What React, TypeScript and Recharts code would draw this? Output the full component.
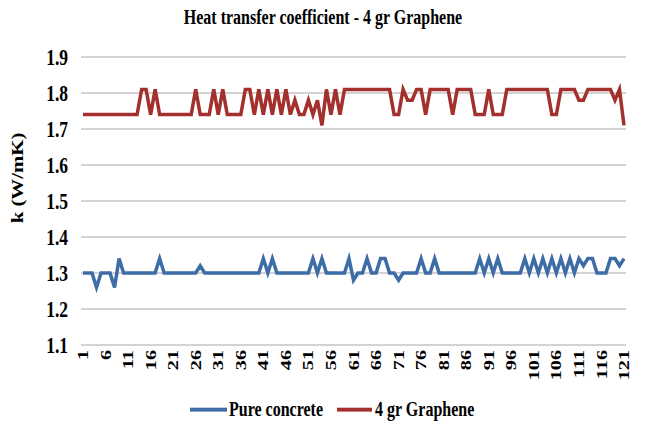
import React from 'react';
import { LineChart, Line, XAxis, YAxis, CartesianGrid } from 'recharts';

const samples: number[] = [
  1,2,3,4,5,6,7,8,9,10,11,12,13,14,15,16,17,18,19,20,
  21,22,23,24,25,26,27,28,29,30,31,32,33,34,35,36,37,38,39,40,
  41,42,43,44,45,46,47,48,49,50,51,52,53,54,55,56,57,58,59,60,
  61,62,63,64,65,66,67,68,69,70,71,72,73,74,75,76,77,78,79,80,
  81,82,83,84,85,86,87,88,89,90,91,92,93,94,95,96,97,98,99,100,
  101,102,103,104,105,106,107,108,109,110,111,112,113,114,115,116,117,118,119,120,121,
];

const pureConcrete: number[] = [
  1.30,1.30,1.30,1.26,1.30,1.30,1.30,1.26,1.34,1.30,
  1.30,1.30,1.30,1.30,1.30,1.30,1.30,1.34,1.30,1.30,
  1.30,1.30,1.30,1.30,1.30,1.30,1.32,1.30,1.30,1.30,
  1.30,1.30,1.30,1.30,1.30,1.30,1.30,1.30,1.30,1.30,
  1.34,1.30,1.34,1.30,1.30,1.30,1.30,1.30,1.30,1.30,
  1.30,1.34,1.30,1.34,1.30,1.30,1.30,1.30,1.30,1.34,
  1.28,1.30,1.30,1.34,1.30,1.30,1.34,1.34,1.30,1.30,
  1.28,1.30,1.30,1.30,1.30,1.34,1.30,1.30,1.34,1.30,
  1.30,1.30,1.30,1.30,1.30,1.30,1.30,1.30,1.34,1.30,
  1.34,1.30,1.34,1.30,1.30,1.30,1.30,1.30,1.34,1.30,
  1.34,1.30,1.34,1.30,1.34,1.30,1.34,1.30,1.34,1.30,
  1.34,1.32,1.34,1.34,1.30,1.30,1.30,1.34,1.34,1.32,
  1.34,
];

const graphene4gr: number[] = [
  1.74,1.74,1.74,1.74,1.74,1.74,1.74,1.74,1.74,1.74,
  1.74,1.74,1.74,1.81,1.81,1.74,1.81,1.74,1.74,1.74,
  1.74,1.74,1.74,1.74,1.74,1.81,1.74,1.74,1.74,1.81,
  1.74,1.81,1.74,1.74,1.74,1.74,1.81,1.81,1.74,1.81,
  1.74,1.81,1.74,1.81,1.74,1.81,1.74,1.78,1.74,1.74,
  1.78,1.74,1.78,1.71,1.81,1.74,1.81,1.74,1.81,1.81,
  1.81,1.81,1.81,1.81,1.81,1.81,1.81,1.81,1.81,1.74,
  1.74,1.81,1.78,1.78,1.81,1.81,1.74,1.81,1.81,1.81,
  1.81,1.81,1.74,1.81,1.81,1.81,1.81,1.74,1.74,1.74,
  1.81,1.74,1.74,1.74,1.81,1.81,1.81,1.81,1.81,1.81,
  1.81,1.81,1.81,1.81,1.74,1.74,1.81,1.81,1.81,1.81,
  1.78,1.78,1.81,1.81,1.81,1.81,1.81,1.81,1.78,1.81,
  1.71,
];

const yTicks: number[] = [1.1, 1.2, 1.3, 1.4, 1.5, 1.6, 1.7, 1.8, 1.9];

const titleText = 'Heat transfer coefficient - 4 gr Graphene';
const yLabelText = 'k (W/mK)';
const seriesNames = ['Pure concrete', '4 gr Graphene'];

const BLUE = '#3d6ca6';
const RED = '#a3302d';
const FONT = '"Liberation Serif", "Times New Roman", serif';

const data = samples.map((s, i) => ({
  sample: s,
  pure: pureConcrete[i],
  graphene: graphene4gr[i],
}));

const YTick = (props: any) => {
  const { x, y, payload } = props;
  return (
    <text
      transform={`translate(${x},${y}) scale(1,1.3)`}
      textAnchor="end"
      dominantBaseline="central"
      fontFamily={FONT}
      fontWeight="bold"
      fontSize={17.5}
      fill="#000"
    >
      {Number(payload.value).toFixed(1)}
    </text>
  );
};

const XTick = (props: any) => {
  const { x, y, payload } = props;
  return (
    <text
      transform={`translate(${x},${y}) rotate(-90) scale(1.35,1)`}
      textAnchor="end"
      dominantBaseline="central"
      fontFamily={FONT}
      fontWeight="bold"
      fontSize={15}
      fill="#000"
    >
      {payload.value}
    </text>
  );
};

export default function App() {
  return (
    <div style={{ position: 'absolute', left: 0, top: 0, width: 646, height: 427, background: '#fff' }}>
      <div
        style={{
          position: 'absolute', left: 0, top: 17, width: 646, textAlign: 'center',
          fontFamily: FONT, fontWeight: 'bold', fontSize: 16, lineHeight: '16px',
          transform: 'translateY(-50%) scaleY(1.3)',
        }}
      >
        {titleText}
      </div>
      <div
        style={{
          position: 'absolute', left: 18, top: 178, whiteSpace: 'nowrap',
          fontFamily: FONT, fontWeight: 'bold', fontSize: 16, lineHeight: '16px',
          transform: 'translate(-50%,-50%) rotate(-90deg) scaleX(1.3)',
        }}
      >
        {yLabelText}
      </div>
      <LineChart width={646} height={427} data={data} margin={{ top: 57, right: 20, bottom: 42, left: 0 }}>
        <CartesianGrid vertical={false} stroke="#c4c4c4" strokeWidth={1.3} />
        <XAxis
          dataKey="sample"
          type="category"
          interval={4}
          axisLine={false}
          tickLine={false}
          tickSize={0}
          tickMargin={5}
          height={40}
          padding={{ left: 2, right: 2 }}
          tick={<XTick />}
        />
        <YAxis
          domain={[1.1, 1.9]}
          ticks={yTicks}
          width={81}
          axisLine={false}
          tickLine={false}
          tickSize={0}
          tickMargin={13}
          tick={<YTick />}
        />
        <Line type="linear" dataKey="pure" name={seriesNames[0]} stroke={BLUE} strokeWidth={3.5} dot={false} isAnimationActive={false} />
        <Line type="linear" dataKey="graphene" name={seriesNames[1]} stroke={RED} strokeWidth={3.5} dot={false} isAnimationActive={false} />
      </LineChart>
      <div
        style={{
          position: 'absolute', left: 190, top: 409, display: 'flex', alignItems: 'center',
          fontFamily: FONT, fontWeight: 'bold', fontSize: 16, lineHeight: '16px',
          transform: 'translateY(-50%) scaleY(1.3)', transformOrigin: 'left center', whiteSpace: 'nowrap',
        }}
      >
        <span style={{ display: 'inline-block', width: 37, height: 3, background: BLUE, marginRight: 2 }} />
        <span>{seriesNames[0]}</span>
        <span style={{ display: 'inline-block', width: 35, height: 3, background: RED, marginLeft: 14, marginRight: 3 }} />
        <span>{seriesNames[1]}</span>
      </div>
    </div>
  );
}
